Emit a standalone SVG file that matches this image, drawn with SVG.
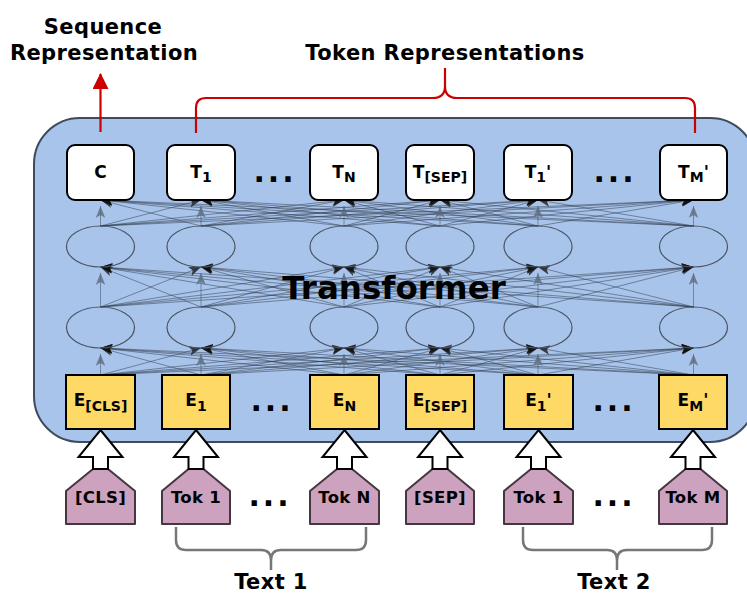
<svg xmlns="http://www.w3.org/2000/svg" width="747" height="595" viewBox="0 0 747 595">
  <style>
    .t { font-family: "DejaVu Sans", Verdana, sans-serif; font-weight: bold; fill: #000; text-anchor: middle; }
    .head { font-size: 21px; letter-spacing: 0.4px; }
    .lbl { font-size: 17px; }
    .sub { font-size: 14px; }
    .tok { font-size: 16.5px; letter-spacing: 0.3px; }
    .dots { font-size: 30px; letter-spacing: 3px; }
    .outbox { fill: #fff; stroke: #000; stroke-width: 2; }
    .emb { fill: #FFD966; stroke: #000; stroke-width: 2; }
    .cell { fill: none; stroke: #4a5563; stroke-width: 1.2; }
    .tokshape { fill: #CDA2BF; stroke: #45363f; stroke-width: 2; stroke-linejoin: round; }
    .up { fill: #fff; stroke: #000; stroke-width: 2; stroke-linejoin: miter; }
    .d { fill: none; stroke: #2d3a4a; stroke-opacity: 0.5; stroke-width: 1; marker-end: url(#ah); }
    .v { fill: none; stroke: #2d3a4a; stroke-opacity: 0.45; stroke-width: 1; marker-end: url(#ahl); }
    .red { fill: none; stroke: #CC0000; stroke-width: 2.2; }
    .brace { fill: none; stroke: #777; stroke-width: 2.5; }
  </style>
  <defs>
    <marker id="ah" viewBox="0 0 10 8" refX="10" refY="4" markerWidth="12" markerHeight="9.6" markerUnits="userSpaceOnUse" orient="auto">
      <path d="M0 0L10 4L0 8L2.5 4z" fill="#111" fill-opacity="0.75"/>
    </marker>
    <marker id="ahl" viewBox="0 0 10 8" refX="10" refY="4" markerWidth="12" markerHeight="9.6" markerUnits="userSpaceOnUse" orient="auto">
      <path d="M0 0L10 4L0 8L2.5 4z" fill="#5d6b7d" fill-opacity="0.8"/>
    </marker>
    <marker id="redhead" viewBox="0 0 16 16" refX="15" refY="8" markerWidth="16" markerHeight="16" markerUnits="userSpaceOnUse" orient="auto">
      <path d="M0 0L16 8L0 16z" fill="#CC0000"/>
    </marker>
  </defs>

  <!-- Headings -->
  <text class="t head" x="103" y="34">Sequence</text>
  <text class="t head" x="104" y="60">Representation</text>
  <text class="t head" x="445" y="60">Token Representations</text>

  <!-- Transformer block -->
  <rect id="transformer" x="34" y="118" width="722" height="324" rx="46" ry="46" fill="#A9C4EB" stroke="#3d4b5c" stroke-width="2"/>

  <!-- Output arrow and bracket -->
  <g id="outputs">
    <path class="red" d="M100.5 132V74" marker-end="url(#redhead)"/>
    <path class="red" d="M196 133V108Q196 98 206 98H433Q445 98 445 86V68M445 86Q445 98 457 98H685Q695 98 695 108V133"/>
  </g>

  <!-- Connections between layers -->
  <g id="connectors">
    <!-- embeddings to lower cells -->
    <path class="d" d="M100.5 375L201 348"/><path class="d" d="M100.5 375L344 348"/><path class="d" d="M100.5 375L440 348"/><path class="d" d="M100.5 375L538 348"/><path class="d" d="M100.5 375L693.5 348"/>
    <path class="d" d="M201 375L100.5 348"/><path class="d" d="M201 375L344 348"/><path class="d" d="M201 375L440 348"/><path class="d" d="M201 375L538 348"/><path class="d" d="M201 375L693.5 348"/>
    <path class="d" d="M344 375L100.5 348"/><path class="d" d="M344 375L201 348"/><path class="d" d="M344 375L440 348"/><path class="d" d="M344 375L538 348"/><path class="d" d="M344 375L693.5 348"/>
    <path class="d" d="M440 375L100.5 348"/><path class="d" d="M440 375L201 348"/><path class="d" d="M440 375L344 348"/><path class="d" d="M440 375L538 348"/><path class="d" d="M440 375L693.5 348"/>
    <path class="d" d="M538 375L100.5 348"/><path class="d" d="M538 375L201 348"/><path class="d" d="M538 375L344 348"/><path class="d" d="M538 375L440 348"/><path class="d" d="M538 375L693.5 348"/>
    <path class="d" d="M693.5 375L100.5 348"/><path class="d" d="M693.5 375L201 348"/><path class="d" d="M693.5 375L344 348"/><path class="d" d="M693.5 375L440 348"/><path class="d" d="M693.5 375L538 348"/>
    <path class="v" d="M100.5 375V354"/><path class="v" d="M201 375V354"/><path class="v" d="M344 375V354"/><path class="v" d="M440 375V354"/><path class="v" d="M538 375V354"/><path class="v" d="M693.5 375V354"/>

    <!-- lower cells to upper cells -->
    <path class="d" d="M100.5 307L201 267"/><path class="d" d="M100.5 307L344 267"/><path class="d" d="M100.5 307L440 267"/><path class="d" d="M100.5 307L538 267"/><path class="d" d="M100.5 307L693.5 267"/>
    <path class="d" d="M201 307L100.5 267"/><path class="d" d="M201 307L344 267"/><path class="d" d="M201 307L440 267"/><path class="d" d="M201 307L538 267"/><path class="d" d="M201 307L693.5 267"/>
    <path class="d" d="M344 307L100.5 267"/><path class="d" d="M344 307L201 267"/><path class="d" d="M344 307L440 267"/><path class="d" d="M344 307L538 267"/><path class="d" d="M344 307L693.5 267"/>
    <path class="d" d="M440 307L100.5 267"/><path class="d" d="M440 307L201 267"/><path class="d" d="M440 307L344 267"/><path class="d" d="M440 307L538 267"/><path class="d" d="M440 307L693.5 267"/>
    <path class="d" d="M538 307L100.5 267"/><path class="d" d="M538 307L201 267"/><path class="d" d="M538 307L344 267"/><path class="d" d="M538 307L440 267"/><path class="d" d="M538 307L693.5 267"/>
    <path class="d" d="M693.5 307L100.5 267"/><path class="d" d="M693.5 307L201 267"/><path class="d" d="M693.5 307L344 267"/><path class="d" d="M693.5 307L440 267"/><path class="d" d="M693.5 307L538 267"/>
    <path class="v" d="M100.5 307V273"/><path class="v" d="M201 307V273"/><path class="v" d="M344 307V273"/><path class="v" d="M440 307V273"/><path class="v" d="M538 307V273"/><path class="v" d="M693.5 307V273"/>

    <!-- upper cells to outputs -->
    <path class="d" d="M100.5 226L201 200"/><path class="d" d="M100.5 226L344 200"/><path class="d" d="M100.5 226L440 200"/><path class="d" d="M100.5 226L538 200"/><path class="d" d="M100.5 226L693.5 200"/>
    <path class="d" d="M201 226L100.5 200"/><path class="d" d="M201 226L344 200"/><path class="d" d="M201 226L440 200"/><path class="d" d="M201 226L538 200"/><path class="d" d="M201 226L693.5 200"/>
    <path class="d" d="M344 226L100.5 200"/><path class="d" d="M344 226L201 200"/><path class="d" d="M344 226L440 200"/><path class="d" d="M344 226L538 200"/><path class="d" d="M344 226L693.5 200"/>
    <path class="d" d="M440 226L100.5 200"/><path class="d" d="M440 226L201 200"/><path class="d" d="M440 226L344 200"/><path class="d" d="M440 226L538 200"/><path class="d" d="M440 226L693.5 200"/>
    <path class="d" d="M538 226L100.5 200"/><path class="d" d="M538 226L201 200"/><path class="d" d="M538 226L344 200"/><path class="d" d="M538 226L440 200"/><path class="d" d="M538 226L693.5 200"/>
    <path class="d" d="M693.5 226L100.5 200"/><path class="d" d="M693.5 226L201 200"/><path class="d" d="M693.5 226L344 200"/><path class="d" d="M693.5 226L440 200"/><path class="d" d="M693.5 226L538 200"/>
    <path class="v" d="M100.5 226V206"/><path class="v" d="M201 226V206"/><path class="v" d="M344 226V206"/><path class="v" d="M440 226V206"/><path class="v" d="M538 226V206"/><path class="v" d="M693.5 226V206"/>
  </g>

  <!-- Hidden cells -->
  <g id="cells-upper">
    <ellipse class="cell" cx="100.5" cy="246.5" rx="34" ry="20.5"/>
    <ellipse class="cell" cx="201" cy="246.5" rx="34" ry="20.5"/>
    <ellipse class="cell" cx="344" cy="246.5" rx="34" ry="20.5"/>
    <ellipse class="cell" cx="440" cy="246.5" rx="34" ry="20.5"/>
    <ellipse class="cell" cx="538" cy="246.5" rx="34" ry="20.5"/>
    <ellipse class="cell" cx="693.5" cy="246.5" rx="34" ry="20.5"/>
  </g>
  <g id="cells-lower">
    <ellipse class="cell" cx="100.5" cy="327.5" rx="34" ry="20.5"/>
    <ellipse class="cell" cx="201" cy="327.5" rx="34" ry="20.5"/>
    <ellipse class="cell" cx="344" cy="327.5" rx="34" ry="20.5"/>
    <ellipse class="cell" cx="440" cy="327.5" rx="34" ry="20.5"/>
    <ellipse class="cell" cx="538" cy="327.5" rx="34" ry="20.5"/>
    <ellipse class="cell" cx="693.5" cy="327.5" rx="34" ry="20.5"/>
  </g>

  <text class="t" x="394" y="299" font-size="32.5">Transformer</text>

  <!-- Output representations -->
  <g id="out-C"><rect class="outbox" x="67" y="145" width="67" height="55" rx="8"/><text class="t lbl" x="100.5" y="178">C</text></g>
  <g id="out-T1"><rect class="outbox" x="167" y="145" width="68" height="55" rx="8"/><text class="t lbl" x="201" y="178">T<tspan class="sub" dy="4">1</tspan></text></g>
  <g id="out-TN"><rect class="outbox" x="310" y="145" width="68" height="55" rx="8"/><text class="t lbl" x="344" y="178">T<tspan class="sub" dy="4">N</tspan></text></g>
  <g id="out-TSEP"><rect class="outbox" x="406" y="145" width="68" height="55" rx="8"/><text class="t lbl" x="440" y="178">T<tspan class="sub" dy="4">[SEP]</tspan></text></g>
  <g id="out-T1b"><rect class="outbox" x="504" y="145" width="68" height="55" rx="8"/><text class="t lbl" x="538" y="178">T<tspan class="sub" dy="4">1</tspan><tspan dy="-4">'</tspan></text></g>
  <g id="out-TM"><rect class="outbox" x="660" y="145" width="67" height="55" rx="8"/><text class="t lbl" x="693.5" y="178">T<tspan class="sub" dy="4">M</tspan><tspan dy="-4">'</tspan></text></g>
  <text class="t dots" x="275" y="182">...</text>
  <text class="t dots" x="615" y="182">...</text>

  <!-- Input embeddings -->
  <g id="emb-CLS"><rect class="emb" x="66" y="375" width="69" height="54"/><text class="t lbl" x="100.5" y="406">E<tspan class="sub" dy="5">[CLS]</tspan></text></g>
  <g id="emb-E1"><rect class="emb" x="162" y="375" width="68" height="54"/><text class="t lbl" x="196" y="406">E<tspan class="sub" dy="5">1</tspan></text></g>
  <g id="emb-EN"><rect class="emb" x="310" y="375" width="69" height="54"/><text class="t lbl" x="344.5" y="406">E<tspan class="sub" dy="5">N</tspan></text></g>
  <g id="emb-SEP"><rect class="emb" x="406" y="375" width="68" height="54"/><text class="t lbl" x="440" y="406">E<tspan class="sub" dy="5">[SEP]</tspan></text></g>
  <g id="emb-E1b"><rect class="emb" x="504" y="375" width="69" height="54"/><text class="t lbl" x="538.5" y="406">E<tspan class="sub" dy="5">1</tspan><tspan dy="-5">'</tspan></text></g>
  <g id="emb-EM"><rect class="emb" x="659" y="375" width="68" height="54"/><text class="t lbl" x="693" y="406">E<tspan class="sub" dy="5">M</tspan><tspan dy="-5">'</tspan></text></g>
  <text class="t dots" x="272" y="411">...</text>
  <text class="t dots" x="614" y="411">...</text>

  <!-- Input tokens with lifting arrows -->
  <g id="tok-CLS">
    <path class="tokshape" d="M66 491L93 469H108L135 491V524H66Z"/>
    <path class="up" d="M100.5 430L122.5 457H108V469H93V457H78.5Z"/>
    <text class="t tok" x="100.5" y="503">[CLS]</text>
  </g>
  <g id="tok-1">
    <path class="tokshape" d="M162 491L188.5 469H203.5L230 491V524H162Z"/>
    <path class="up" d="M196 430L218 457H203.5V469H188.5V457H174Z"/>
    <text class="t tok" x="196" y="503">Tok 1</text>
  </g>
  <g id="tok-N">
    <path class="tokshape" d="M310 491L337 469H352L379 491V524H310Z"/>
    <path class="up" d="M344.5 430L366.5 457H352V469H337V457H322.5Z"/>
    <text class="t tok" x="344.5" y="503">Tok N</text>
  </g>
  <g id="tok-SEP">
    <path class="tokshape" d="M406 491L432.5 469H447.5L474 491V524H406Z"/>
    <path class="up" d="M440 430L462 457H447.5V469H432.5V457H418Z"/>
    <text class="t tok" x="440" y="503">[SEP]</text>
  </g>
  <g id="tok-1b">
    <path class="tokshape" d="M504 491L531 469H546L573 491V524H504Z"/>
    <path class="up" d="M538.5 430L560.5 457H546V469H531V457H516.5Z"/>
    <text class="t tok" x="538.5" y="503">Tok 1</text>
  </g>
  <g id="tok-M">
    <path class="tokshape" d="M659 491L685.5 469H700.5L727 491V524H659Z"/>
    <path class="up" d="M693 430L715 457H700.5V469H685.5V457H671Z"/>
    <text class="t tok" x="693" y="503">Tok M</text>
  </g>
  <text class="t dots" x="270" y="506">...</text>
  <text class="t dots" x="614" y="506">...</text>

  <!-- Segment brackets -->
  <g id="segment-1">
    <path class="brace" d="M176 527V540Q176 550 186 550H261Q271 550 271 560V570M271 560Q271 550 281 550H356Q366 550 366 540V527"/>
    <text class="t head" x="271" y="589">Text 1</text>
  </g>
  <g id="segment-2">
    <path class="brace" d="M523 527V540Q523 550 533 550H607Q617 550 617 560V570M617 560Q617 550 627 550H702Q712 550 712 540V527"/>
    <text class="t head" x="614" y="589">Text 2</text>
  </g>
</svg>
